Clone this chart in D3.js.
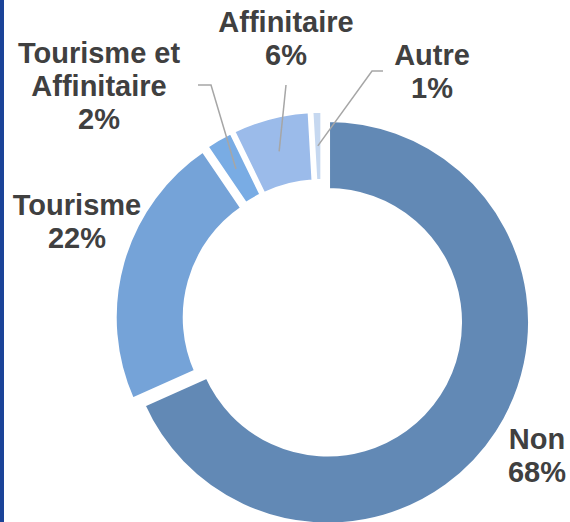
<!DOCTYPE html>
<html>
<head>
<meta charset="utf-8">
<script src="https://cdn.jsdelivr.net/npm/d3@7"></script>
<style>
  body { margin:0; background:#fff; }
  svg text { font-family: "Liberation Sans", Arial, sans-serif; font-weight:bold; fill:#404040; }
</style>
</head>
<body>
<div id="chart"></div>
<script>

// data (shares, labels as printed)
const categories = ['Non', 'Tourisme', 'Tourisme et Affinitaire', 'Affinitaire', 'Autre'];
const values = [68.3, 22.2, 2.3, 6.3, 0.9];
const pctLabels = ['68%', '22%', '2%', '6%', '1%'];
const nameLines = [['Non'], ['Tourisme'], ['Tourisme et', 'Affinitaire'], ['Affinitaire'], ['Autre']];
const colors = ['#6289b5', '#75a3d8', '#79ace4', '#9bbbea', '#c6d8f0'];

// layout
const width = 570, height = 522;
const cx = 322.75, cy = 319;
const outerR = 202.5, innerR = 132, explode = 6;
// label anchor (centre x, first baseline y) and leader elbow
const labelPos = [
    {x:537, y:449, line:null},
    {x:77, y:215, line:null},
    {x:99, y:63, line:[[198,85],[211,85]]},
    {x:286, y:32, line:[[286,85]]},
    {x:432, y:65, line:[[383,71],[372,71]]}
];
const lineH = 33;

const svg = d3.select('#chart')
    .append('svg')
    .attr('width', width)
    .attr('height', height);

svg.append('rect')
    .attr('width', width)
    .attr('height', height)
    .attr('fill', '#fff');

// left border strip
svg.append('rect')
    .attr('x', 0).attr('y', 0)
    .attr('width', 4).attr('height', height)
    .attr('fill', '#1b4398');

const pie = d3.pie().sort(null).value(d => d)(values);
const arc = d3.arc().innerRadius(innerR).outerRadius(outerR);

const g = svg.append('g')
    .attr('transform', `translate(${cx},${cy})`);

function offset(d) {
    let a = (d.startAngle + d.endAngle) / 2;
    return [explode * Math.sin(a), -explode * Math.cos(a)];
}

g.selectAll('.slice')
    .data(pie)
    .enter().append('path')
    .attr('class', 'slice')
    .attr('transform', d => `translate(${offset(d)})`)
    .attr('d', arc)
    .attr('fill', (d, i) => colors[i])
    .attr('stroke', '#fff')
    .attr('stroke-width', 4.5);

// leader lines
pie.forEach((d, i) => {
    let lp = labelPos[i];
    if (!lp.line) return;
    let o = offset(d);
    let c = arc.centroid(d);
    let end = [cx + o[0] + c[0], cy + o[1] + c[1]];
    svg.append('polyline')
        .attr('points', lp.line.concat([end]).map(p => p.join(',')).join(' '))
        .attr('fill', 'none')
        .attr('stroke', '#a6a6a6')
        .attr('stroke-width', 1.5);
});

// labels
labelPos.forEach((lp, i) => {
    let t = svg.append('text')
        .attr('text-anchor', 'middle')
        .attr('font-size', '29px');
    nameLines[i].concat([pctLabels[i]]).forEach((s, k) => {
        t.append('tspan')
            .attr('x', lp.x)
            .attr('y', lp.y + k * lineH)
            .text(s);
    });
});

</script>
</body>
</html>
